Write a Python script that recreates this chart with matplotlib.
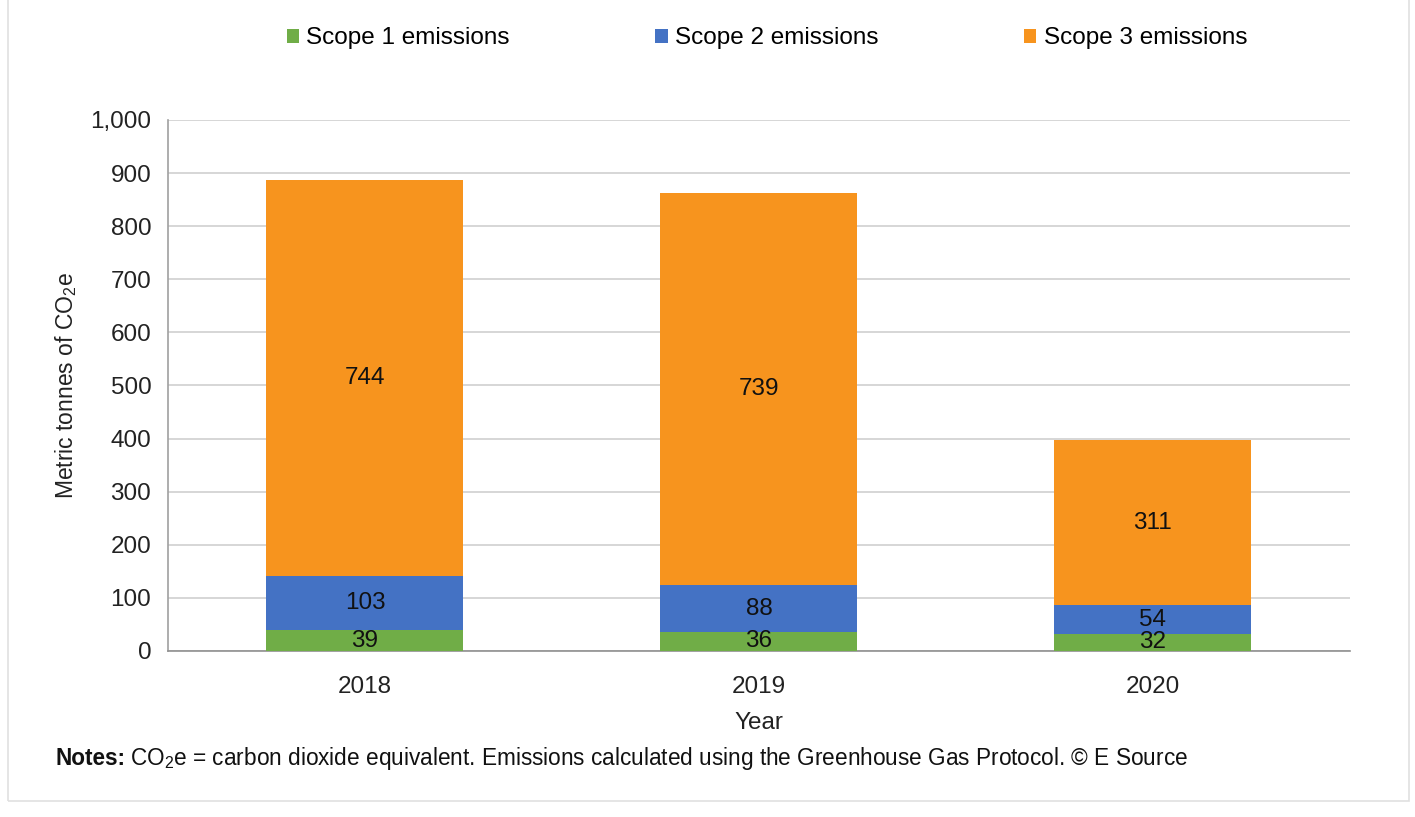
import matplotlib
matplotlib.use('Agg')
import matplotlib.pyplot as plt
from matplotlib.ticker import FuncFormatter
from matplotlib.patches import Rectangle

years = ["2018", "2019", "2020"]
scope1 = [39, 36, 32]
scope2 = [103, 88, 54]
scope3 = [744, 739, 311]
series_names = ["Scope 1 emissions", "Scope 2 emissions", "Scope 3 emissions"]
colors = ["#70AD47", "#4472C4", "#F7941E"]

plt.rcParams['font.family'] = ['Liberation Sans', 'DejaVu Sans']
plt.rcParams['mathtext.fontset'] = 'custom'
plt.rcParams['mathtext.rm'] = 'Liberation Sans'
plt.rcParams['mathtext.it'] = 'Liberation Sans:italic'
plt.rcParams['mathtext.bf'] = 'Liberation Sans:bold'

fig = plt.figure(figsize=(14.15, 8.17), dpi=100)
ax = fig.add_axes([0.1187, 0.2032, 0.8353, 0.650])

x = list(range(len(years)))
bottom2 = [a for a in scope1]
bottom3 = [a + b for a, b in zip(scope1, scope2)]

b1 = ax.bar(x, scope1, width=0.5, color=colors[0], label=series_names[0], zorder=3)
b2 = ax.bar(x, scope2, width=0.5, bottom=bottom2, color=colors[1], label=series_names[1], zorder=3)
b3 = ax.bar(x, scope3, width=0.5, bottom=bottom3, color=colors[2], label=series_names[2], zorder=3)

for bars in (b1, b2, b3):
    ax.bar_label(bars, label_type='center', fontsize=17.5, color='#111111')

ax.set_xlim(-0.5, 2.5)
ax.set_ylim(0, 1000)
ax.set_yticks(range(0, 1001, 100))
ax.yaxis.set_major_formatter(FuncFormatter(lambda v, p: f"{int(v):,}"))
ax.set_xticks(x)
ax.set_xticklabels(years)
ax.tick_params(axis='both', labelsize=17.5, length=0, colors='#222222')
ax.tick_params(axis='x', pad=18)
ax.tick_params(axis='y', pad=12)

ax.grid(axis='y', color='#D0D0D0', linewidth=1.2, zorder=0)
for s in ['top', 'right']:
    ax.spines[s].set_visible(False)
ax.spines['left'].set_color('#A0A0A0')
ax.spines['bottom'].set_color('#909090')
ax.spines['left'].set_linewidth(1.2)
ax.spines['bottom'].set_linewidth(1.2)

ax.set_xlabel("Year", fontsize=17.5, labelpad=10, color='#222222')
ax.set_ylabel("Metric tonnes of CO$_2$e", fontsize=16.5, labelpad=8, color='#222222')

leg = fig.legend(handles=[b1, b2, b3], labels=series_names, loc='center',
                 bbox_to_anchor=(0.542, 0.953), ncol=3, frameon=False,
                 fontsize=17.5, handlelength=0.5, handleheight=0.5,
                 handletextpad=0.3, columnspacing=6.0)

# notes line: bold label, then the rest placed right after it
t_bold = fig.text(0.039, 0.072, "Notes:", fontsize=16.3, fontweight='bold',
                  va='center', color='#111111')
renderer = fig.canvas.get_renderer()
bb = t_bold.get_window_extent(renderer=renderer)
x_next = (bb.x1 + 5) / fig.bbox.width
fig.text(x_next, 0.072,
         "CO$_2$e = carbon dioxide equivalent. Emissions calculated using the Greenhouse Gas Protocol. \u00a9 E Source",
         fontsize=16.3, va='center', color='#111111')

fig.patches.append(Rectangle((0.006, 0.02), 0.99, 1.0, transform=fig.transFigure,
                             fill=False, edgecolor='#E0E0E0', linewidth=1.2))

fig.savefig("out.png", dpi=100)
